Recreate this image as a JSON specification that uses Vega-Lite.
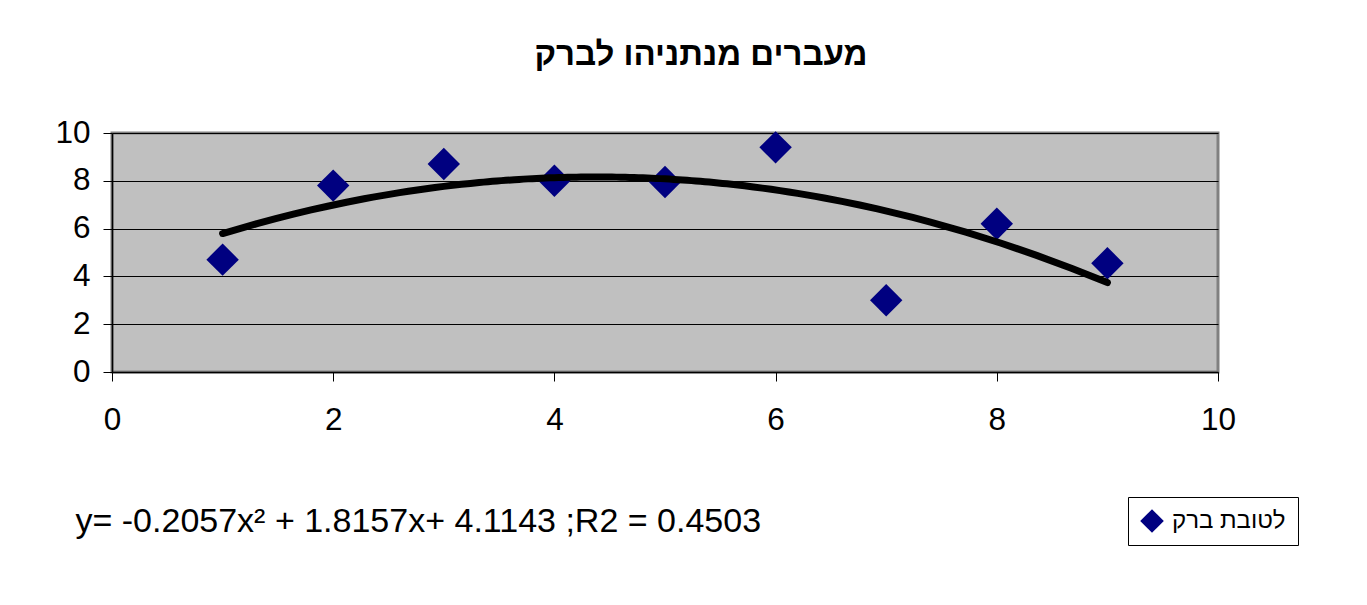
{
  "$schema": "https://vega.github.io/schema/vega-lite/v6.json",
  "width": 1106,
  "height": 239,
  "autosize": {"type": "none"},
  "padding": {"left": 112, "top": 133, "right": 149, "bottom": 233},
  "background": "white",
  "title": {
    "text": "מעברים מנתניהו לברק",
    "font": "Liberation Sans",
    "fontSize": 33,
    "fontWeight": "bold",
    "color": "black",
    "anchor": "middle",
    "offset": 45,
    "dx": 36
  },
  "data": {
    "values": [
      {"x": 1, "y": 4.7, "series": "לטובת ברק"},
      {"x": 2, "y": 7.8, "series": "לטובת ברק"},
      {"x": 3, "y": 8.7, "series": "לטובת ברק"},
      {"x": 4, "y": 8.0, "series": "לטובת ברק"},
      {"x": 5, "y": 7.95, "series": "לטובת ברק"},
      {"x": 6, "y": 9.4, "series": "לטובת ברק"},
      {"x": 7, "y": 3.0, "series": "לטובת ברק"},
      {"x": 8, "y": 6.2, "series": "לטובת ברק"},
      {"x": 9, "y": 4.55, "series": "לטובת ברק"}
    ]
  },
  "layer": [
    {
      "mark": {"type": "point", "shape": "diamond", "filled": true, "size": 1050, "opacity": 1},
      "encoding": {
        "x": {
          "field": "x",
          "type": "quantitative",
          "scale": {"domain": [0, 10], "nice": false},
          "axis": {
            "values": [0, 2, 4, 6, 8, 10],
            "format": "d",
            "grid": false,
            "domainColor": "black",
            "domainWidth": 1.5,
            "tickColor": "black",
            "tickSize": 9,
            "tickWidth": 1,
            "labelFont": "Liberation Sans",
            "labelFontSize": 31.5,
            "labelColor": "black",
            "labelPadding": 23,
            "labelFlush": false,
            "title": "y= -0.2057x² + 1.8157x+ 4.1143 ;R2 = 0.4503",
            "titleFont": "Liberation Sans",
            "titleFontSize": 34,
            "titleFontWeight": "normal",
            "titleColor": "black",
            "titleX": -37,
            "titleY": 159,
            "titleAlign": "left",
            "titleBaseline": "alphabetic",
            "titleAnchor": "start"
          }
        },
        "y": {
          "field": "y",
          "type": "quantitative",
          "scale": {"domain": [0, 10], "nice": false},
          "axis": {
            "values": [0, 2, 4, 6, 8, 10],
            "format": "d",
            "grid": true,
            "gridColor": "black",
            "gridWidth": 1,
            "gridOpacity": 1,
            "domainColor": "black",
            "domainWidth": 1.5,
            "tickColor": "black",
            "tickSize": 9,
            "tickWidth": 1,
            "labelFont": "Liberation Sans",
            "labelFontSize": 31.5,
            "labelColor": "black",
            "labelPadding": 13,
            "title": null
          }
        },
        "color": {
          "field": "series",
          "type": "nominal",
          "scale": {"range": ["#000080"]},
          "legend": {
            "title": null,
            "orient": "none",
            "legendX": 1016,
            "legendY": 364,
            "symbolType": "diamond",
            "symbolSize": 560,
            "symbolStrokeWidth": 0,
            "labelFont": "Liberation Sans",
            "labelFontSize": 24,
            "labelColor": "black",
            "labelOffset": 8,
            "strokeColor": "black",
            "fillColor": "white",
            "padding": 12
          }
        }
      }
    },
    {
      "transform": [
        {"regression": "y", "on": "x", "method": "poly", "order": 2, "extent": [1, 9]}
      ],
      "mark": {"type": "line", "color": "black", "strokeWidth": 7, "strokeCap": "round"},
      "encoding": {
        "x": {"field": "x", "type": "quantitative"},
        "y": {"field": "y", "type": "quantitative"}
      }
    }
  ],
  "config": {
    "font": "Liberation Sans",
    "view": {"fill": "#C0C0C0", "stroke": "#808080", "strokeWidth": 3}
  }
}
